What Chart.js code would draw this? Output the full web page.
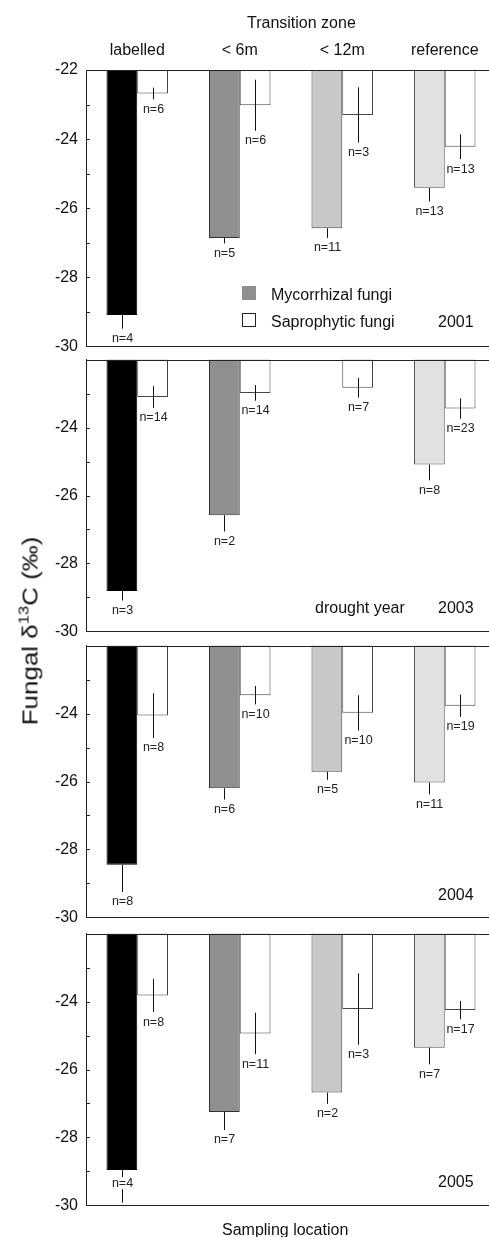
<!DOCTYPE html>
<html>
<head>
<meta charset="utf-8">
<script src="https://cdn.jsdelivr.net/npm/chart.js@4/dist/chart.umd.min.js"></script>
<style>
  html, body { margin: 0; padding: 0; background: #fff; overflow: hidden; width: 489px; height: 1237px; }
  body { position: relative; font-family: Arial, "Liberation Sans", sans-serif; color: #111; }
  canvas { position: absolute; left: 0; }
  .txt { position: absolute; white-space: nowrap; font-size: 16px; line-height: 1; }
  .sw { position: absolute; width: 14px; height: 14px; box-sizing: border-box; }
</style>
</head>
<body>

<canvas id="chart-2001"></canvas>
<canvas id="chart-2003"></canvas>
<canvas id="chart-2004"></canvas>
<canvas id="chart-2005"></canvas>

<div class="txt" style="left:247px;top:15px;">Transition zone</div>

<div class="sw" style="left:242px;top:286px;background:#8f8f8f;"></div>
<div class="txt" style="left:271px;top:287px;">Mycorrhizal fungi</div>
<div class="sw" style="left:242px;top:313px;background:#fff;border:1px solid #222;"></div>
<div class="txt" style="left:271px;top:314px;">Saprophytic fungi</div>

<div class="txt" style="left:438px;top:314px;">2001</div>
<div class="txt" style="left:315px;top:600px;">drought year</div>
<div class="txt" style="left:438px;top:600px;">2003</div>
<div class="txt" style="left:438px;top:887px;">2004</div>
<div class="txt" style="left:438px;top:1174px;">2005</div>

<div class="txt" style="left:222px;top:1222px;">Sampling location</div>

<div class="txt" style="left:29px;top:631px;font-size:22px;transform:translate(-50%,-50%) rotate(-90deg) scaleX(1.18);">Fungal &#948;<sup style="font-size:14px;vertical-align:9px;">13</sup>C (&#8240;)</div>

<script>
// categories
const locations = ["labelled", "< 6m", "< 12m", "reference"];
const mycoColors = ["#000000", "#8f8f8f", "#c8c8c8", "#e0e1e0"];
const mycoBorders = ["#000000", "#333333", "#444444", "#555555"];

// 2001
const myco2001 = [-29.09, -26.86, -26.58, -25.41];
const mycoErr2001 = [0.40, 0.16, 0.28, 0.40];
const mycoN2001 = [4, 5, 11, 13];
const sapro2001 = [-22.68, -23.02, -23.30, -24.22];
const saproErr2001 = [0.17, 0.74, 0.80, 0.36];
const saproN2001 = [6, 6, 3, 13];

// 2003 (drought year, no mycorrhizal data at < 12m)
const myco2003 = [-28.81, -26.58, null, -25.09];
const mycoErr2003 = [0.28, 0.48, null, 0.46];
const mycoN2003 = [3, 2, null, 8];
const sapro2003 = [-23.10, -22.98, -22.83, -23.44];
const saproErr2003 = [0.32, 0.23, 0.29, 0.30];
const saproN2003 = [14, 14, 7, 23];

// 2004
const myco2004 = [-28.45, -26.20, -25.71, -26.03];
const mycoErr2004 = [0.80, 0.33, 0.24, 0.35];
const mycoN2004 = [8, 6, 5, 11];
const sapro2004 = [-24.06, -23.46, -23.98, -23.77];
const saproErr2004 = [0.66, 0.27, 0.52, 0.33];
const saproN2004 = [8, 10, 10, 19];

// 2005
const myco2005 = [-28.96, -27.25, -26.68, -25.36];
const mycoErr2005 = [0.96, 0.53, 0.33, 0.49];
const mycoN2005 = [4, 7, 2, 7];
const sapro2005 = [-23.82, -24.94, -24.22, -24.25];
const saproErr2005 = [0.49, 0.61, 1.05, 0.27];
const saproN2005 = [8, 11, 3, 17];

const yTop = -22;
const yBottom = -30;

// error bars, n labels, inner ticks, frame lines
const panelDecor = {
  id: "panelDecor",
  afterDatasetsDraw(chart, args, opts) {
    const ctx = chart.ctx;
    const area = chart.chartArea;
    const y = chart.scales.y;
    const x = chart.scales.x;
    ctx.save();

    // frame lines top and bottom
    ctx.strokeStyle = "#222";
    ctx.lineWidth = 1;
    ctx.beginPath();
    ctx.moveTo(area.left, Math.round(area.top) + 0.5);
    ctx.lineTo(chart.width, Math.round(area.top) + 0.5);
    ctx.moveTo(area.left, Math.round(area.bottom) + 0.5);
    ctx.lineTo(chart.width, Math.round(area.bottom) + 0.5);
    ctx.stroke();

    // inward ticks
    ctx.beginPath();
    for (let v = yBottom + 1; v < yTop; v++) {
      const py = Math.round(y.getPixelForValue(v)) + 0.5;
      ctx.moveTo(area.left, py);
      ctx.lineTo(area.left + 4, py);
    }
    ctx.stroke();

    // error bars and n labels
    ctx.font = "12.5px Arial";
    ctx.textAlign = "center";
    ctx.textBaseline = "middle";
    chart.data.datasets.forEach((ds, di) => {
      const meta = chart.getDatasetMeta(di);
      meta.data.forEach((bar, i) => {
        const mean = ds.means[i];
        if (mean === null) return;
        const err = ds.errs[i];
        const cx = Math.round(bar.x) + 0.5;
        const yMean = y.getPixelForValue(mean);
        const yLow = y.getPixelForValue(mean - err);
        const yHigh = y.getPixelForValue(mean + err);
        ctx.strokeStyle = "#111";
        ctx.beginPath();
        ctx.moveTo(cx, ds.twoSided ? yHigh : yMean);
        ctx.lineTo(cx, yLow);
        ctx.stroke();
        let ly = yLow + 10;
        if (ly > area.bottom - 6) ly = yMean + 13;
        const label = "n=" + ds.ns[i];
        const w = ctx.measureText(label).width;
        if (ly < yLow) {
          ctx.fillStyle = "#fff";
          ctx.fillRect(cx - w / 2 - 1, ly - 6, w + 2, 12);
        }
        ctx.fillStyle = "#222";
        ctx.fillText(label, cx, ly);
      });
    });

    // category headers on the first panel
    if (opts.headers) {
      ctx.font = "16px Arial";
      ctx.fillStyle = "#111";
      locations.forEach((name, i) => {
        ctx.fillText(name, x.getPixelForValue(i), area.top - 19);
      });
    }
    ctx.restore();
  }
};

function makePanel(id, areaTop, areaBottom, myco, mycoErr, mycoN, sapro, saproErr, saproN, first) {
  const padTop = first ? areaTop : 14;
  const padBottom = 14;
  const canvas = document.getElementById(id);
  canvas.width = 500;
  canvas.height = areaBottom - areaTop + padTop + padBottom;
  canvas.style.width = "500px";
  canvas.style.height = canvas.height + "px";
  canvas.style.top = (areaTop - padTop) + "px";

  new Chart(canvas, {
    type: "bar",
    data: {
      labels: locations,
      datasets: [
        {
          label: "Mycorrhizal fungi",
          data: myco.map(v => (v === null ? null : [yTop, v])),
          means: myco, errs: mycoErr, ns: mycoN, twoSided: false,
          backgroundColor: mycoColors,
          borderColor: mycoBorders,
          borderWidth: 1,
          borderSkipped: false,
          categoryPercentage: 0.6,
          barPercentage: 1.0
        },
        {
          label: "Saprophytic fungi",
          data: sapro.map(v => [yTop, v]),
          means: sapro, errs: saproErr, ns: saproN, twoSided: true,
          backgroundColor: "#ffffff",
          borderColor: "#444444",
          borderWidth: 1,
          borderSkipped: false,
          categoryPercentage: 0.6,
          barPercentage: 1.0
        }
      ]
    },
    options: {
      responsive: false,
      animation: false,
      devicePixelRatio: 1,
      layout: { padding: { top: padTop, bottom: padBottom, left: 0, right: 4 } },
      plugins: {
        legend: { display: false },
        tooltip: { enabled: false },
        panelDecor: { headers: first }
      },
      scales: {
        x: { display: false },
        y: {
          min: yBottom,
          max: yTop,
          afterFit(scale) { scale.width = 86; },
          ticks: {
            stepSize: 1,
            autoSkip: false,
            padding: 8,
            color: "#111",
            font: { family: "Arial", size: 16 },
            callback: v => (v % 2 === 0 && (first || v !== yTop)) ? String(v) : ""
          },
          grid: { display: false, drawTicks: false },
          border: { display: true, color: "#222" }
        }
      }
    },
    plugins: [panelDecor]
  });
}

makePanel("chart-2001", 70, 350, myco2001, mycoErr2001, mycoN2001, sapro2001, saproErr2001, saproN2001, true);
makePanel("chart-2003", 356, 635, myco2003, mycoErr2003, mycoN2003, sapro2003, saproErr2003, saproN2003, false);
makePanel("chart-2004", 642, 921, myco2004, mycoErr2004, mycoN2004, sapro2004, saproErr2004, saproN2004, false);
makePanel("chart-2005", 930, 1209, myco2005, mycoErr2005, mycoN2005, sapro2005, saproErr2005, saproN2005, false);
</script>
</body>
</html>
